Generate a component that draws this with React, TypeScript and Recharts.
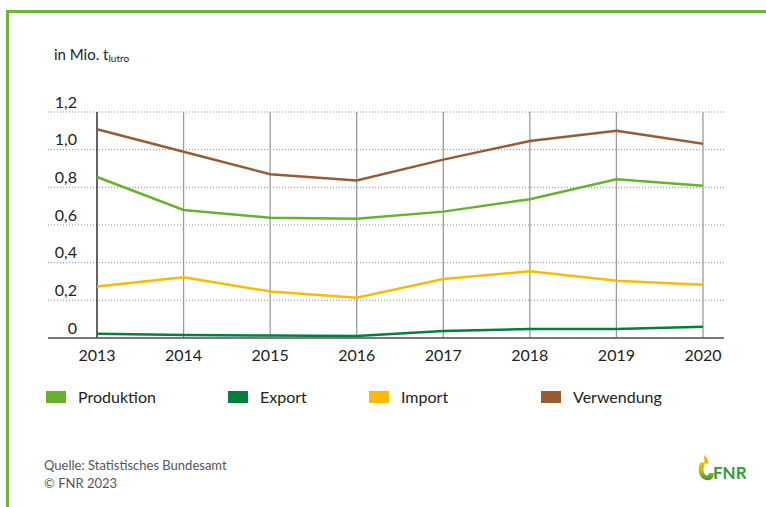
import React from 'react'
import { LineChart, Line, XAxis, YAxis, CartesianGrid, ReferenceLine } from 'recharts'

const years = ['2013', '2014', '2015', '2016', '2017', '2018', '2019', '2020']
const produktion = [0.855, 0.68, 0.638, 0.633, 0.671, 0.737, 0.843, 0.808]
const exportVals = [0.023, 0.016, 0.013, 0.011, 0.037, 0.048, 0.048, 0.06]
const importVals = [0.274, 0.323, 0.247, 0.214, 0.313, 0.355, 0.304, 0.283]
const verwendung = [1.108, 0.989, 0.87, 0.836, 0.947, 1.046, 1.1, 1.032]
const yTicks = [0, 0.2, 0.4, 0.6, 0.8, 1.0, 1.2]

const series = [
  { key: 'produktion', name: 'Produktion', color: '#66b22f' },
  { key: 'export', name: 'Export', color: '#007f3d' },
  { key: 'import', name: 'Import', color: '#fbb900' },
  { key: 'verwendung', name: 'Verwendung', color: '#985c33' },
]

const data = years.map((year, i) => ({
  year,
  produktion: produktion[i],
  export: exportVals[i],
  import: importVals[i],
  verwendung: verwendung[i],
}))

const FONT = 'Lato, Roboto, sans-serif'

function fmt(v: number) {
  if (v === 0) return '0'
  return v.toFixed(1).replace('.', ',')
}

// y labels sit above their gridline, right aligned
function YTick(props: any) {
  const { y, payload } = props
  return (
    <text x={77} y={y - 10} dy="0.35em" textAnchor="end" fontSize={16} fill="#222" fontFamily={FONT}>
      {fmt(payload.value)}
    </text>
  )
}

export default function App() {
  return (
    <div style={{ position: 'absolute', left: 0, top: 0, width: 766, height: 507, background: '#fff', fontFamily: FONT, overflow: 'hidden' }}>
      <div
        style={{
          position: 'absolute',
          left: 6,
          top: 10,
          right: -4,
          bottom: -4,
          borderTop: '3px solid #6cb43a',
          borderLeft: '3px solid #6cb43a',
        }}
      />
      <div style={{ position: 'absolute', left: 54, top: 45, fontSize: 15, color: '#222', whiteSpace: 'nowrap' }}>
        in Mio. t<span style={{ fontSize: 10, position: 'relative', top: 2 }}>lutro</span>
      </div>

      <div style={{ position: 'absolute', left: 0, top: 0 }}>
        <LineChart width={766} height={380} data={data} margin={{ top: 112, right: 42, left: 0, bottom: 12 }}>
          <CartesianGrid vertical={false} stroke="#8a8a8a" strokeDasharray="1 2" />
          <XAxis
            dataKey="year"
            padding={{ left: 49, right: 21 }}
            height={30}
            tickLine={false}
            tickMargin={6}
            axisLine={{ stroke: '#555', strokeWidth: 1.5 }}
            tick={{ fontSize: 16, fill: '#222', fontFamily: FONT }}
          />
          <YAxis width={48} domain={[0, 1.2]} ticks={yTicks} axisLine={false} tickLine={false} tick={<YTick />} />
          {years.map((y, i) => (
            <ReferenceLine key={y} x={y} stroke={i === 0 ? '#111' : '#9a9a9a'} strokeWidth={1.3} />
          ))}
          {series.map((s) => (
            <Line
              key={s.key}
              dataKey={s.key}
              name={s.name}
              stroke={s.color}
              strokeWidth={2.5}
              dot={false}
              type="linear"
              isAnimationActive={false}
            />
          ))}
        </LineChart>
      </div>

      {series.map((s, i) => {
        const lefts = [46, 228, 369, 541]
        return (
          <div key={s.key} style={{ position: 'absolute', left: lefts[i], top: 387, display: 'flex', alignItems: 'center', whiteSpace: 'nowrap' }}>
            <span style={{ display: 'inline-block', width: 20, height: 12, background: s.color }} />
            <span style={{ marginLeft: 12, fontSize: 16, color: '#222' }}>{s.name}</span>
          </div>
        )
      })}

      <div style={{ position: 'absolute', left: 44, top: 456, fontSize: 13, lineHeight: '18px', color: '#555' }}>
        <div>Quelle: Statistisches Bundesamt</div>
        <div>© FNR 2023</div>
      </div>

      <svg style={{ position: 'absolute', left: 696, top: 452 }} width={50} height={32}>
        <defs>
          <linearGradient id="fnrg" x1="0" y1="0" x2="0" y2="1">
            <stop offset="0" stopColor="#f8b400" />
            <stop offset="0.45" stopColor="#c8c000" />
            <stop offset="1" stopColor="#2f9a3a" />
          </linearGradient>
        </defs>
        <path d="M5 10 C1 16 2 26 10 28 C15 29 18 26 18 21 L13 21 C13 23 11 24 9.5 23 C7 21 7 15 9.5 11 Z" fill="url(#fnrg)" />
        <path d="M8 3 C11 6 13 8 12 12 L8.5 11 Z" fill="#f8b400" />
        <text x={17} y={27} fontSize={17} fontWeight="bold" fill="#35993a" fontFamily={FONT}>FNR</text>
      </svg>
    </div>
  )
}
